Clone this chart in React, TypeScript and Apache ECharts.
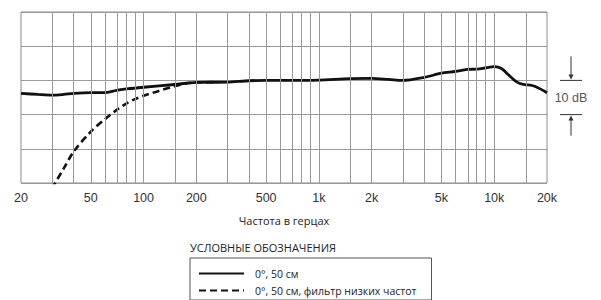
import React, { useEffect, useRef } from "react";
import * as echarts from "echarts";

const solidFreqs = [20, 25, 30, 35, 40, 50, 60, 70, 80, 100, 150, 200, 300, 400, 500, 700, 1000, 1500, 2000, 2500, 3000, 4000, 5000, 6000, 7000, 8000, 9000, 10000, 11000, 12000, 13000, 14000, 15000, 17000, 20000];
const solidDb = [-3.8, -4.1, -4.3, -4.1, -3.8, -3.6, -3.6, -2.9, -2.5, -2.0, -1.2, -0.6, -0.5, -0.1, 0, 0, 0.1, 0.5, 0.6, 0.3, 0.0, 0.9, 2.1, 2.6, 3.2, 3.3, 3.7, 4.0, 3.5, 1.7, 0.1, -0.9, -1.2, -1.7, -3.6];

const dashedFreqs = [30, 35, 40, 50, 60, 70, 80, 90, 100, 150, 175, 200, 250];
const dashedDb = [-31.6, -25.8, -20.8, -15, -11.4, -8.7, -6.7, -5.4, -4.5, -1.7, -0.9, -0.6, -0.5];

const gridFreqs = [30, 40, 50, 60, 70, 80, 90, 100, 150, 200, 300, 400, 500, 600, 700, 800, 900, 1000, 1500, 2000, 3000, 4000, 5000, 6000, 7000, 8000, 9000, 10000, 15000];
const labelFreqs = [20, 50, 100, 200, 500, 1000, 2000, 5000, 10000, 20000];

const seriesNames = ["0°, 50 см", "0°, 50 см, фильтр низких частот"];
const legendTitle = "УСЛОВНЫЕ ОБОЗНАЧЕНИЯ";
const xAxisName = "Частота в герцах";
const scaleLabel = "10 dB";

const fmtFreq = (f: number) => {
  const r = Math.round(f);
  return r >= 1000 ? `${Math.round(r / 1000)}k` : `${r}`;
};

export default function App() {
  const ref = useRef<HTMLDivElement>(null);
  useEffect(() => {
    document.body.style.margin = "0";
    if (!ref.current) return;
    const chart = echarts.init(ref.current, null, { renderer: "svg" });
    const lg = (f: number) => Math.log10(f);
    chart.setOption({
      animation: false,
      grid: {
        left: 21,
        right: 54,
        top: 12,
        height: 171,
        show: true,
        borderColor: "#8a8a8a",
        borderWidth: 1,
      },
      xAxis: {
        type: "value",
        min: lg(20),
        max: lg(20000),
        splitLine: { show: false },
        axisLine: { show: false },
        axisTick: { show: false },
        axisLabel: {
          customValues: labelFreqs.map(lg),
          formatter: (v: number) => fmtFreq(Math.pow(10, v)),
          fontFamily: "Liberation Sans",
          fontSize: 12.5,
          color: "#333",
          margin: 8,
        },
        name: xAxisName,
        nameLocation: "middle",
        nameGap: 32,
        nameTextStyle: { fontFamily: "Open Sans", fontSize: 11, color: "#222" },
      },
      yAxis: {
        type: "value",
        min: -30,
        max: 20,
        interval: 10,
        axisLabel: { show: false },
        axisLine: { show: false },
        axisTick: { show: false },
        splitLine: { show: true, lineStyle: { color: "#9a9a9a", width: 1 } },
      },
      legend: {
        orient: "vertical",
        left: 190,
        top: 258,
        padding: [10, 15, 4, 8],
        itemGap: 6,
        itemWidth: 45,
        itemHeight: 10,
        borderColor: "#555",
        borderWidth: 1,
        borderRadius: 0,
        itemStyle: { opacity: 0 },
        textStyle: { fontFamily: "Open Sans", fontSize: 10.5, color: "#222", padding: [0, 0, 0, 6] },
        data: seriesNames,
      },
      series: [
        {
          type: "line",
          silent: true,
          data: [],
          markLine: {
            silent: true,
            symbol: ["none", "none"],
            label: { show: false },
            lineStyle: { color: "#9a9a9a", width: 1, type: "solid" },
            data: gridFreqs.map((f) => ({ xAxis: lg(f) })),
          },
        },
        {
          name: seriesNames[1],
          type: "line",
          data: dashedFreqs.map((f, i) => [lg(f), dashedDb[i]]),
          showSymbol: false,
          symbol: "none",
          smooth: 0.3,
          clip: true,
          lineStyle: { color: "#111", width: 2.6, type: [7, 4] },
          itemStyle: { color: "#111" },
          z: 3,
        },
        {
          name: seriesNames[0],
          type: "line",
          data: solidFreqs.map((f, i) => [lg(f), solidDb[i]]),
          showSymbol: false,
          symbol: "none",
          smooth: 0.3,
          clip: true,
          lineStyle: { color: "#111", width: 2.8 },
          itemStyle: { color: "#111" },
          z: 4,
        },
      ],
    });
    const y0 = chart.convertToPixel({ yAxisIndex: 0 }, 0) as number;
    const y1 = chart.convertToPixel({ yAxisIndex: 0 }, -10) as number;
    const xr = chart.convertToPixel({ xAxisIndex: 0 }, lg(20000)) as number;
    const cx = xr + 24;
    chart.setOption({
      graphic: [
        {
          type: "text",
          left: 190,
          top: 242,
          style: { text: legendTitle, fontFamily: "Open Sans", fontSize: 11, fill: "#222" },
        },
        { type: "line", shape: { x1: cx - 11, y1: y0, x2: cx + 11, y2: y0 }, style: { stroke: "#333", lineWidth: 1 } },
        { type: "line", shape: { x1: cx - 11, y1: y1, x2: cx + 11, y2: y1 }, style: { stroke: "#333", lineWidth: 1 } },
        { type: "line", shape: { x1: cx, y1: y0 - 24, x2: cx, y2: y0 - 4 }, style: { stroke: "#333", lineWidth: 1 } },
        { type: "polygon", shape: { points: [[cx - 2.5, y0 - 6], [cx + 2.5, y0 - 6], [cx, y0 - 1]] }, style: { fill: "#333" } },
        { type: "line", shape: { x1: cx, y1: y1 + 4, x2: cx, y2: y1 + 21 }, style: { stroke: "#333", lineWidth: 1 } },
        { type: "polygon", shape: { points: [[cx - 2.5, y1 + 6], [cx + 2.5, y1 + 6], [cx, y1 + 1]] }, style: { fill: "#333" } },
        {
          type: "text",
          x: cx,
          y: (y0 + y1) / 2,
          style: { text: scaleLabel, fontFamily: "Liberation Sans", fontSize: 12.5, fill: "#555", align: "center", verticalAlign: "middle" },
        },
      ],
    });
    return () => chart.dispose();
  }, []);
  return <div ref={ref} style={{ width: 601, height: 300 }} />;
}
